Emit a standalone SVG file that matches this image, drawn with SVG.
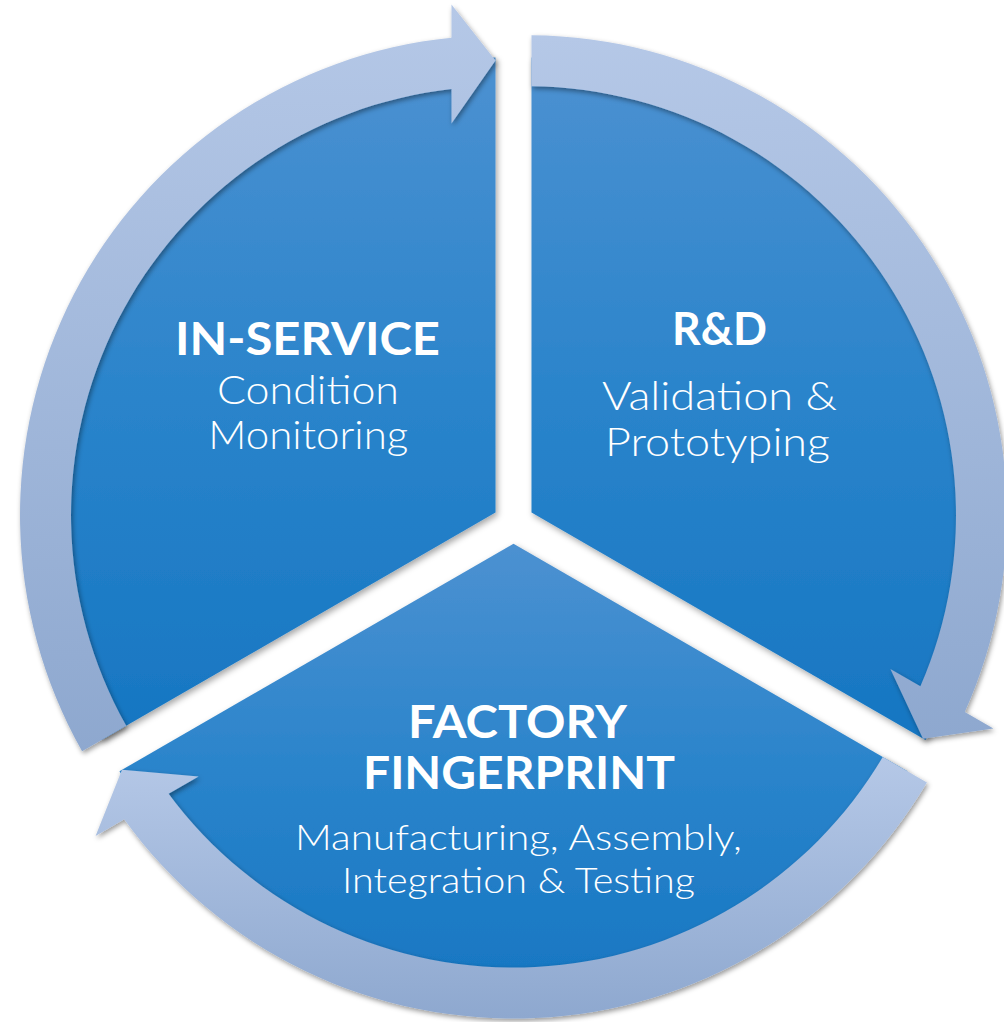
<svg xmlns="http://www.w3.org/2000/svg" width="1004" height="1022" viewBox="0 0 1004 1022">
  <defs>
    <linearGradient id="gSector" x1="0" y1="0" x2="0" y2="1">
      <stop offset="0" stop-color="#4c91d1"/>
      <stop offset="0.5" stop-color="#2a84cb"/>
      <stop offset="1" stop-color="#1676c2"/>
    </linearGradient>
    <linearGradient id="gArrow" x1="0" y1="0" x2="0" y2="1">
      <stop offset="0" stop-color="#b5c8e7"/>
      <stop offset="1" stop-color="#8ea8cf"/>
    </linearGradient>
    <filter id="shSector" x="-10%" y="-10%" width="120%" height="120%">
      <feDropShadow dx="2" dy="3" stdDeviation="3" flood-color="#000" flood-opacity="0.35"/>
    </filter>
    <filter id="shArrow" x="-10%" y="-10%" width="120%" height="120%">
      <feDropShadow dx="1.5" dy="2.5" stdDeviation="2.5" flood-color="#000" flood-opacity="0.4"/>
    </filter>
  </defs>
  <style>
    .sector { fill: url(#gSector); filter: url(#shSector); }
    .arrow { fill: url(#gArrow); filter: url(#shArrow); }
    .head { font-family: Lato, "Open Sans", "Liberation Sans", sans-serif; font-weight: 700; font-size: 45px; fill: #ffffff; text-anchor: middle; }
    .sub { font-family: Lato, "Open Sans", "Liberation Sans", sans-serif; font-weight: 300; font-size: 39px; fill: #ffffff; text-anchor: middle; }
    .sub2 { font-family: Lato, "Open Sans", "Liberation Sans", sans-serif; font-weight: 300; font-size: 35px; fill: #ffffff; text-anchor: middle; }
  </style>
  <rect width="1004" height="1022" fill="#ffffff"/>

  <g id="node-in-service">
    <path class="sector" d="M495.5,512.61 L101.47,740.11 A455,455 0 0 1 495.5,57.61 Z"/>
    <text class="head" x="307.5" y="355" textLength="265" lengthAdjust="spacingAndGlyphs">IN-SERVICE</text>
    <text class="sub"><tspan x="308" y="404" textLength="182" lengthAdjust="spacingAndGlyphs">Condition</tspan><tspan x="308.3" y="448.5" textLength="200" lengthAdjust="spacingAndGlyphs">Monitoring</tspan></text>
  </g>

  <g id="node-rnd">
    <path class="sector" d="M531.5,512.61 L531.5,57.61 A455,455 0 0 1 925.53,740.11 Z"/>
    <text class="head" x="719.5" y="345" textLength="95" lengthAdjust="spacingAndGlyphs">R&amp;D</text>
    <text class="sub"><tspan x="719.5" y="410" textLength="235" lengthAdjust="spacingAndGlyphs">Validation &amp;</tspan><tspan x="717.5" y="456" textLength="225" lengthAdjust="spacingAndGlyphs">Prototyping</tspan></text>
  </g>

  <g id="node-factory">
    <path class="sector" d="M513.5,543.78 L907.53,771.28 A455,455 0 0 1 119.47,771.28 Z"/>
    <text class="head"><tspan x="517.5" y="738" textLength="219" lengthAdjust="spacingAndGlyphs">FACTORY</tspan><tspan x="519" y="789" textLength="312" lengthAdjust="spacingAndGlyphs">FINGERPRINT</tspan></text>
    <text class="sub2"><tspan x="518.5" y="849.5" textLength="447" lengthAdjust="spacingAndGlyphs">Manufacturing, Assembly,</tspan><tspan x="518.5" y="892.5" textLength="353" lengthAdjust="spacingAndGlyphs">Integration &amp; Testing</tspan></text>
  </g>

  <g id="connectors">
    <path id="arrow-inservice-to-rnd" class="arrow" d="M82.09,751.30 A480,480 0 0 1 451.5,37.66 L451.5,4.6 L495.5,60.5 L451.5,123.6 L451.5,88.95 A429,429 0 0 0 126.26,725.80 Z"/>
    <path id="arrow-rnd-to-factory" class="arrow" d="M531.5,35.25 A480,480 0 0 1 964.8,711.98 L993.43,728.51 L923.03,738.66 L890.38,669.01 L920.39,686.34 A429,429 0 0 0 531.5,86.25 Z"/>
    <path id="arrow-factory-to-inservice" class="arrow" d="M926.92,782.45 A480,480 0 0 1 124.2,819.36 L95.57,835.89 L121.97,769.84 L198.62,776.39 L168.61,793.72 A429,429 0 0 0 882.74,756.95 Z"/>
  </g>
</svg>
